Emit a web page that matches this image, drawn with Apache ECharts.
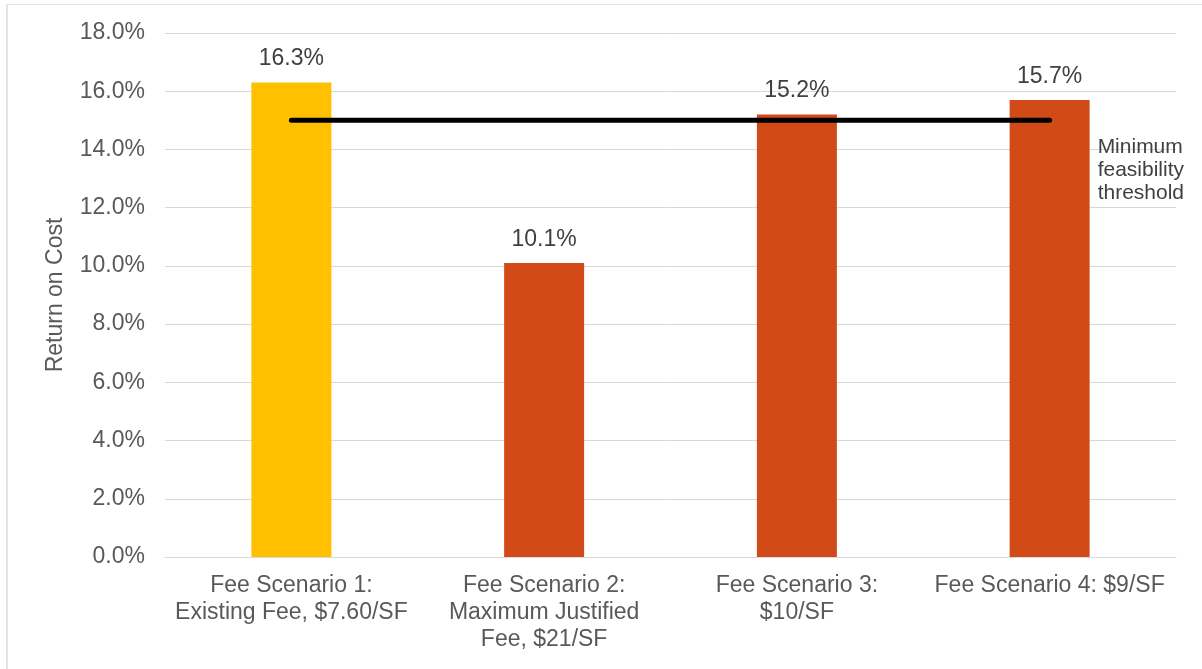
<!DOCTYPE html>
<html>
<head>
<meta charset="utf-8">
<script src="https://cdn.jsdelivr.net/npm/echarts@6/dist/echarts.min.js"></script>
<style>
  html, body { margin: 0; padding: 0; background: #ffffff; }
  #chart { position: absolute; left: 0; top: 0; width: 1202px; height: 669px; }
  #frame { position: absolute; left: 6px; top: 4px; width: 1300px; height: 800px;
           border-left: 2px solid #e8e4da; border-top: 1px solid #ece4d8; pointer-events: none; }
</style>
</head>
<body>
<div id="chart"></div>
<div id="frame"></div>
<script>
const categories = [
  'Fee Scenario 1:\nExisting Fee, $7.60/SF',
  'Fee Scenario 2:\nMaximum Justified\nFee, $21/SF',
  'Fee Scenario 3:\n$10/SF',
  'Fee Scenario 4: $9/SF'
];
const returnOnCost = [16.3, 10.1, 15.2, 15.7];
const barColors = ['#FFC000', '#D24A17', '#D24A17', '#D24A17'];
const thresholdValues = [15, 15, 15, 15];
const thresholdLabel = 'Minimum\nfeasibility\nthreshold';
const yAxisTitle = 'Return on Cost';

const chart = echarts.init(document.getElementById('chart'), null, { renderer: 'canvas' });
const font = 'Liberation Sans, Arial, sans-serif';
const textColor = '#595959';

chart.setOption({
  animation: false,
  backgroundColor: '#ffffff',
  grid: { left: 165, right: 26, top: 33, bottom: 112, containLabel: false },
  xAxis: {
    type: 'category',
    data: categories,
    axisLine: { show: true, lineStyle: { color: '#d9d9d9', width: 1 } },
    axisTick: { show: false },
    axisLabel: { color: textColor, fontFamily: font, fontSize: 23, lineHeight: 27, margin: 15, interval: 0 }
  },
  yAxis: {
    type: 'value',
    min: 0, max: 18, interval: 2,
    name: yAxisTitle,
    nameLocation: 'middle',
    nameGap: 98,
    nameTextStyle: { color: textColor, fontFamily: font, fontSize: 23 },
    axisLine: { show: false },
    axisTick: { show: false },
    splitLine: { lineStyle: { color: '#d9d9d9', width: 1 } },
    axisLabel: { color: textColor, fontFamily: font, fontSize: 23, margin: 20,
                 formatter: v => v.toFixed(1) + '%' }
  },
  series: [
    {
      type: 'bar',
      barWidth: 80,
      data: returnOnCost.map((v, i) => ({ value: v, itemStyle: { color: barColors[i] } })),
      label: { show: true, position: 'top', distance: 12, color: '#404040', fontFamily: font, fontSize: 23,
               formatter: p => p.value.toFixed(1) + '%' },
      z: 2
    },
    {
      type: 'line',
      data: thresholdValues,
      symbol: 'none',
      lineStyle: { color: '#000000', width: 5, cap: 'round' },
      endLabel: { show: true, formatter: thresholdLabel, color: '#404040', fontFamily: font,
                  fontSize: 21, lineHeight: 23, align: 'left', offset: [40, 50] },
      z: 3
    }
  ]
});
</script>
</body>
</html>
